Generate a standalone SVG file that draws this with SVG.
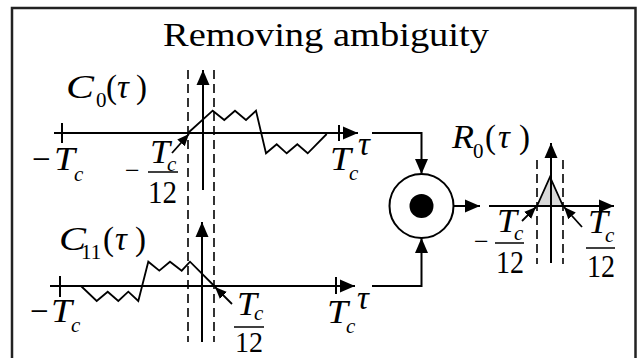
<svg xmlns="http://www.w3.org/2000/svg" width="637" height="358" viewBox="0 0 637 358" font-family="Liberation Serif, Times New Roman, Times, serif">
<style>
text{font-family:"Liberation Serif","Times New Roman",Times,serif;fill:#000}
.ax{stroke:#000;stroke-width:2;fill:none}
.sig{stroke:#000;stroke-width:1.8;fill:none;stroke-linejoin:miter}
.dash{stroke:#000;stroke-width:1.6;stroke-dasharray:9,5;fill:none}
.bar{stroke:#000;stroke-width:1.5}
.m{font-size:33px}
.n{font-size:31px}
.mn{font-size:26px}
.s{font-size:21px}
.i{font-style:italic}
.big{font-size:33px}
</style>
<defs>
<marker id="ah" markerUnits="userSpaceOnUse" markerWidth="16" markerHeight="14" refX="15" refY="7" orient="auto">
<path d="M0,0.5 L15,7 L0,13.5 z" fill="#000"/>
</marker>
<marker id="sa" markerUnits="userSpaceOnUse" markerWidth="13" markerHeight="11" refX="12" refY="5.5" orient="auto">
<path d="M0,0.5 L12,5.5 L0,10.5 z" fill="#000"/>
</marker>
</defs>
<rect x="12" y="8" width="623.5" height="362" fill="#fff" stroke="#222" stroke-width="2.5"/>
<g id="title"><text class="big" x="163" y="46" textLength="326" lengthAdjust="spacingAndGlyphs">Removing ambiguity</text></g>

<g id="graph-c0">
<line class="dash" x1="188" y1="70" x2="188" y2="205"/>
<line class="dash" x1="214" y1="70" x2="214" y2="205"/>
<line class="ax" x1="54" y1="133" x2="358" y2="133" marker-end="url(#ah)"/>
<line class="ax" x1="203" y1="190" x2="203" y2="70" marker-end="url(#ah)"/>
<line class="ax" x1="62" y1="123" x2="62" y2="143"/>
<line class="ax" x1="339" y1="125" x2="339" y2="141"/>
<polyline class="sig" points="188,133 212.7,110.7 224.3,120 235,110.7 246,120 256,110.7 266,153.3 276.7,144.3 286.7,153.3 297.3,144.3 307.7,153.3 326.7,134"/>
<line class="sig" x1="172" y1="153" x2="189" y2="134" marker-end="url(#sa)"/>
<text class="m i" x="66" y="98" textLength="28" lengthAdjust="spacingAndGlyphs">C</text>
<text class="s" x="96" y="107">0</text>
<text class="m" x="106" y="98">(</text>
<text class="m i" x="117" y="98">τ</text>
<text class="m" x="136" y="98">)</text>
<text class="m" x="32" y="170">−</text>
<text class="m i" x="54" y="170" textLength="21" lengthAdjust="spacingAndGlyphs">T</text>
<text class="s i" x="74" y="181">c</text>
<text class="mn" x="125" y="179">−</text>
<text class="m i" x="150" y="163" textLength="20" lengthAdjust="spacingAndGlyphs">T</text>
<text class="s i" x="167" y="171">c</text>
<line class="bar" x1="148" y1="172" x2="178" y2="172"/>
<text class="n" x="148" y="203" textLength="29" lengthAdjust="spacingAndGlyphs">12</text>
<text class="m i" x="330" y="170" textLength="21" lengthAdjust="spacingAndGlyphs">T</text>
<text class="s i" x="349" y="180">c</text>
<text class="m i" x="358" y="155">τ</text>
</g>

<g id="graph-c11">
<line class="dash" x1="188" y1="210" x2="188" y2="342"/>
<line class="dash" x1="214" y1="210" x2="214" y2="342"/>
<line class="ax" x1="50" y1="286" x2="355" y2="286" marker-end="url(#ah)"/>
<line class="ax" x1="202" y1="342" x2="202" y2="222" marker-end="url(#ah)"/>
<line class="ax" x1="60" y1="276" x2="60" y2="297"/>
<line class="ax" x1="336" y1="277" x2="336" y2="294"/>
<polyline class="sig" points="81,286 96.7,301 107.7,291.7 118.3,301 128.3,291.7 138.3,301 148.3,261.7 159.3,270.7 170,261.7 181.7,270.7 190,261.7 214.3,286"/>
<line class="sig" x1="232" y1="304" x2="215" y2="287" marker-end="url(#sa)"/>
<text class="m i" x="59" y="250" textLength="27" lengthAdjust="spacingAndGlyphs">C</text>
<text class="s" x="81" y="259">11</text>
<text class="m" x="103" y="250">(</text>
<text class="m i" x="115" y="250">τ</text>
<text class="m" x="135" y="250">)</text>
<text class="m" x="30" y="322">−</text>
<text class="m i" x="51" y="322" textLength="21" lengthAdjust="spacingAndGlyphs">T</text>
<text class="s i" x="71" y="332">c</text>
<text class="m i" x="237" y="315" textLength="20" lengthAdjust="spacingAndGlyphs">T</text>
<text class="s i" x="254" y="320">c</text>
<line class="bar" x1="234" y1="327" x2="264" y2="327"/>
<text class="n" x="235" y="352" style="font-size:30px" textLength="28" lengthAdjust="spacingAndGlyphs">12</text>
<text class="m i" x="327" y="323" textLength="21" lengthAdjust="spacingAndGlyphs">T</text>
<text class="s i" x="346" y="333">c</text>
<text class="m i" x="357" y="309">τ</text>
</g>

<g id="multiplier">
<circle cx="421.5" cy="206" r="32" fill="#fff" stroke="#000" stroke-width="2"/>
<circle cx="421.5" cy="206" r="12" fill="#000"/>
</g>

<g id="connectors">
<polyline class="ax" points="372,133 421.5,133 421.5,174" marker-end="url(#ah)"/>
<polyline class="ax" points="372,286 421.5,286 421.5,238" marker-end="url(#ah)"/>
<line class="ax" x1="453.5" y1="206" x2="480" y2="206" marker-end="url(#ah)"/>
</g>

<g id="graph-r0">
<polygon points="537,206 550,177 563,206" fill="#d9d9d9" stroke="#000" stroke-width="1.8"/>
<line class="dash" x1="537" y1="160" x2="537" y2="264"/>
<line class="dash" x1="563" y1="160" x2="563" y2="264"/>
<line class="ax" x1="489" y1="206" x2="614" y2="206" marker-end="url(#ah)"/>
<line class="ax" x1="551" y1="263" x2="551" y2="143" marker-end="url(#ah)"/>
<line class="sig" x1="522" y1="221" x2="536" y2="207" marker-end="url(#sa)"/>
<line class="sig" x1="582" y1="227" x2="564" y2="207" marker-end="url(#sa)"/>
<text class="m i" x="452" y="148" textLength="22" lengthAdjust="spacingAndGlyphs">R</text>
<text class="s" x="473" y="158">0</text>
<text class="m" x="485" y="148">(</text>
<text class="m i" x="498" y="148">τ</text>
<text class="m" x="519" y="148">)</text>
<text class="mn" x="474" y="250">−</text>
<text class="m i" x="497" y="232" textLength="20" lengthAdjust="spacingAndGlyphs">T</text>
<text class="s i" x="514" y="240">c</text>
<line class="bar" x1="495" y1="243" x2="524" y2="243"/>
<text class="n" x="496" y="273" textLength="28" lengthAdjust="spacingAndGlyphs">12</text>
<text class="m i" x="588" y="233" textLength="20" lengthAdjust="spacingAndGlyphs">T</text>
<text class="s i" x="605" y="242">c</text>
<line class="bar" x1="586" y1="248" x2="615" y2="248"/>
<text class="n" x="587" y="277" textLength="28" lengthAdjust="spacingAndGlyphs">12</text>
</g>
</svg>
